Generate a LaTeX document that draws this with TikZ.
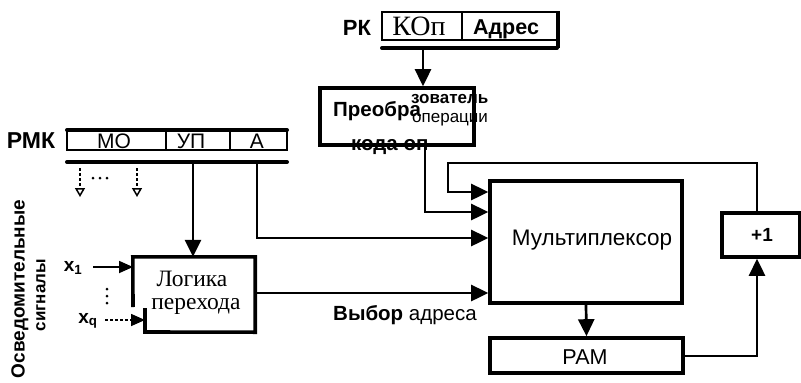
\documentclass[tikz,border=0pt]{standalone}
\usepackage{fontspec}
\setmainfont{Liberation Sans}
\newfontfamily\serifcyr{Liberation Serif}
\usetikzlibrary{arrows.meta,calc}
\begin{document}
\begin{tikzpicture}[x=1pt,y=-1pt,
  box/.style={draw, line width=3.6pt, inner sep=0pt},
  regthin/.style={line width=1.1pt},
  regthick/.style={line width=4pt, line cap=round},
  conn/.style={line width=2.7pt},
  arr/.style={conn, -{Triangle[length=17pt,width=16pt]}},
  smallarr/.style={line width=1.5pt, densely dashed, -{Triangle[open,length=9pt,width=10pt,line width=1.5pt]}},
  lbl/.style={inner sep=0pt, font=\fontsize{21}{23}\selectfont},
  blbl/.style={inner sep=0pt, font=\fontsize{20.5}{22}\selectfont\bfseries},
  slbl/.style={inner sep=0pt, font=\fontsize{23.5}{25}\selectfont\serifcyr},
  dotmark/.style={fill, circle, inner sep=0pt, minimum size=3pt},
]
\useasboundingbox (0,0) rectangle (801,383);

% ---------- register RK ----------
\node[draw, regthin, minimum width=175pt, minimum height=28pt, inner sep=0pt] (rk) at (469.5,26) {};
\draw[regthin] (462,12) -- (462,40);
\draw[regthick, line cap=butt] (rk.north east) -- ++(0,37);
\coordinate (rkbarL) at (382,48);
\coordinate (rkbarR) at (557,48);
\draw[regthick] (rkbarL) -- (rkbarR);
\node[blbl, font=\fontsize{22}{24}\selectfont\bfseries] (rklbl) at (357,28) {РК};
\node[slbl, font=\fontsize{28}{30}\selectfont\serifcyr, anchor=base] (kop) at (419,35) {КОп};
\node[blbl, font=\fontsize{21.5}{23}\selectfont\bfseries, anchor=base] (adr) at (506,34) {Адрес};
\coordinate (rkout) at (423,48);

% ---------- converter ----------
\node[box, minimum width=154pt, minimum height=57pt] (preob) at (397,116.5) {};
\node[blbl, anchor=base west] (t1) at (333,116) {Преобра};
\node[blbl, font=\fontsize{17}{19}\selectfont\bfseries, anchor=base west] (t2) at (411,103) {зователь};
\node[lbl, font=\fontsize{17}{19}\selectfont, anchor=base west] (t3) at (412,122) {операции};
\node[blbl, anchor=base west] (t4) at (351,150) {кода оп};

% ---------- register RMK ----------
\node[draw, regthin, minimum width=220pt, minimum height=20pt, inner sep=0pt] (rmk) at (177,140) {};
\coordinate (rmktopL) at (67,130);
\coordinate (rmktopR) at (287,130);
\draw[regthick] (rmktopL) -- (rmktopR);
\draw[regthin] (166,130) -- (166,150);
\draw[regthin] (230,130) -- (230,150);
\coordinate (rmkbarL) at (67,162);
\coordinate (rmkbarR) at (287,162);
\draw[regthick] (rmkbarL) -- (rmkbarR);
\node[blbl, font=\fontsize{23}{24}\selectfont\bfseries] (rmklbl) at (31,141) {РМК};
\node[lbl] (mo) at (114,141) {МО};
\node[lbl] (up) at (191,141) {УП};
\node[lbl] (afield) at (257,141) {А};

% micro-operation outputs
\coordinate (mo1s) at (80,168);
\coordinate (mo1e) at (80,197);
\coordinate (mo2s) at (137,168);
\coordinate (mo2e) at (137,197);
\draw[smallarr] (mo1s) -- (mo1e);
\draw[smallarr] (mo2s) -- (mo2e);
\node[dotmark] (d1) at (93,178) {};
\node[dotmark] (d2) at (100,178) {};
\node[dotmark] (d3) at (107,178) {};

% ---------- transition logic ----------
\node[minimum width=122pt, minimum height=75pt, inner sep=0pt] (logic) at (194,294.5) {};
\draw[line width=3.6pt] (133,307) -- (logic.north west) -- (logic.north east) -- (logic.south east) -- (145,332) -- (145,308);
\node[slbl, anchor=base] (lg1) at (192,286) {Логика};
\node[slbl, anchor=base] (lg2) at (196,309) {перехода};

% status signals
\node[inner sep=0pt, font=\fontsize{19}{20}\selectfont\bfseries, rotate=90] (osv) at (20,289) {Осведомительные};
\node[inner sep=0pt, font=\fontsize{17}{18}\selectfont\bfseries, rotate=90] (sig) at (41,295) {сигналы};
\node[inner sep=0pt, font=\fontsize{19}{20}\selectfont\bfseries] (x1) at (73,268) {x$_{\mathbf 1}$};
\node[inner sep=0pt, font=\fontsize{19}{20}\selectfont\bfseries] (xq) at (88,321) {x$_{\mathbf q}$};
\node[dotmark] (v1) at (107,289) {};
\node[dotmark] (v2) at (107,296) {};
\node[dotmark] (v3) at (107,303) {};
\coordinate (x1s) at (93,267);
\coordinate (xqs) at (105,320);
\draw[arr, line width=1.8pt, -{Triangle[length=14pt,width=12pt]}] (x1s) -- (133,267);
\draw[arr, line width=1.6pt, densely dashed, -{Triangle[length=14pt,width=12pt]}] (xqs) -- (145,320);

% ---------- multiplexer ----------
\node[box, minimum width=192pt, minimum height=122pt] (mux) at (586,242) {};
\node[inner sep=0pt, font=\fontsize{22.5}{24}\selectfont] (muxlbl) at (592,240) {Мультиплексор};
\node[box, minimum width=193pt, minimum height=35pt] (ram) at (586.5,355.5) {};
\node[inner sep=0pt, font=\fontsize{21.5}{23}\selectfont] (ramlbl) at (585,357) {РАМ};
\node[box, minimum width=78pt, minimum height=44pt] (inc) at (761,235) {};
\node[inner sep=0pt, font=\fontsize{19}{20}\selectfont\bfseries] (inclbl) at (762,235) {+1};

\node[inner sep=0pt, anchor=base west, font=\fontsize{20.5}{22}\selectfont] (vyb) at (333,320) {\textbf{Выбор} адреса};

% ---------- connectors ----------
\draw[arr] (rkout) -- (rkout |- preob.north);
\coordinate (upout) at (193,162);
\draw[arr] (upout) -- (upout |- logic.north);
\coordinate (aout) at (257,162);
\coordinate (abend) at (257,238);
\draw[arr] (aout) -- (abend) -- (abend -| mux.west);
\coordinate (pout) at (425,145);
\coordinate (pbend) at (425,212);
\draw[arr] (pout) -- (pbend) -- (pbend -| mux.west);
\coordinate (loopR) at (757,163);
\coordinate (loopL) at (448,163);
\coordinate (loopD) at (448,192);
\draw[arr] (inc.north -| loopR) -- (loopR) -- (loopL) -- (loopD) -- (loopD -| mux.west);
\coordinate (lout) at (255,293);
\draw[arr] (lout) -- (lout -| mux.west);
\draw[arr] (mux.south) -- (ram.north);
\coordinate (rbend) at (757,356);
\draw[arr] (ram.east |- rbend) -- (rbend) -- (rbend |- inc.south);
\end{tikzpicture}
\end{document}
